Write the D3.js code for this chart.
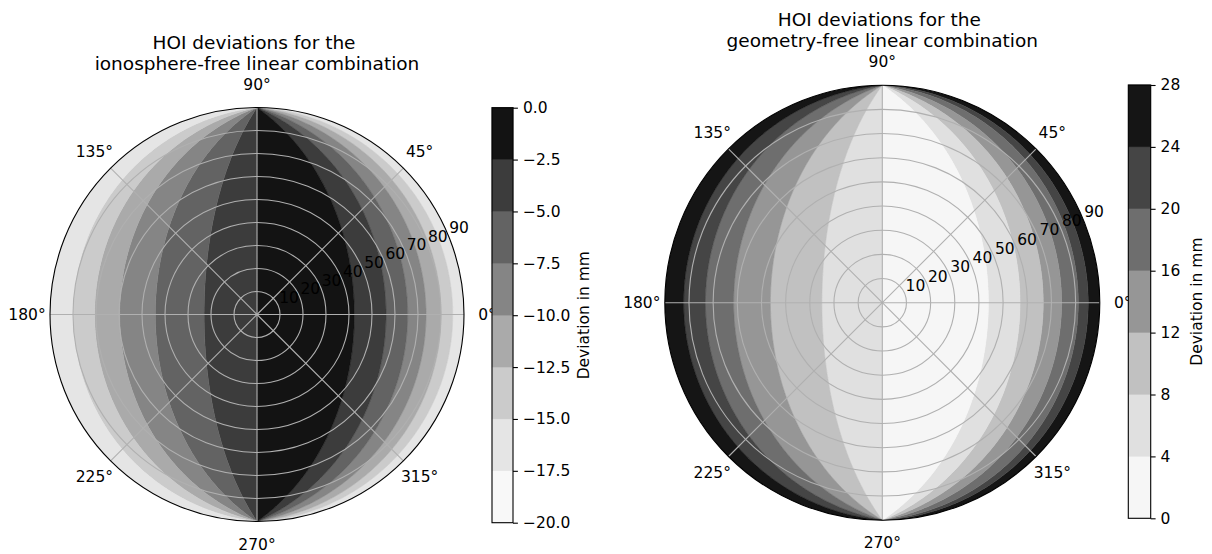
<!DOCTYPE html>
<html>
<head>
<meta charset="utf-8">
<script src="https://cdn.jsdelivr.net/npm/d3@7"></script>
<style>
  body { margin: 0; background: #fff; }
  svg { font-family: "DejaVu Sans", sans-serif; }
</style>
</head>
<body>
<div id="chart"></div>
<script>
// Contour levels of both panels (mm)
const ifLevels = [-20, -17.5, -15, -12.5, -10, -7.5, -5, -2.5, 0];
const gfLevels = [0, 4, 8, 12, 16, 20, 24, 28];

// Filled bands are lunes between meridians through the 90°/270° horizon points.
// Edge = meridian angle in degrees (0 = horizon at 0°, 90 = zenith line, 180 = horizon at 180°)
const ifBandEdges = [0, 4.9, 10, 16.5, 24.5, 33.9, 47.7, 90, 113, 134.2, 149.7, 160.6, 170, 180];
const ifBandLevel = [1, 2, 3, 4, 5, 6, 7, 6, 5, 4, 3, 2, 1];   // band k = between levels[k] and levels[k+1]

const gfBandEdges = [0, 4.8, 8.9, 15.8, 23.4, 33, 46.1, 90, 115, 136.3, 151.5, 163.2, 172.2, 180];
const gfBandLevel = [6, 5, 4, 3, 2, 1, 0, 1, 2, 3, 4, 5, 6];

// Polar axis ticks
const rTicks = [10, 20, 30, 40, 50, 60, 70, 80, 90];
const thetaTicks = [0, 45, 90, 135, 180, 225, 270, 315];

const W = 1212, H = 554;
const FS = 15.5;   // tick label font size

const svg = d3.select('#chart').append('svg')
    .attr('width', W)
    .attr('height', H);

// matplotlib "Greys" colormap
const greys = d3.scaleLinear()
    .domain(d3.range(9).map(i => i / 8))
    .range(['#ffffff', '#f0f0f0', '#d9d9d9', '#bdbdbd', '#969696', '#737373', '#525252', '#252525', '#000000'])
    .interpolate(d3.interpolateRgb);

const rad = Math.PI / 180;
const tSamples = d3.range(-90, 90.01, 1);

// point on a meridian: returns [zenith deg, azimuth rad (ccw from 0°)]
function meridianPoint(phi, t) {
    const p = phi * rad, tt = t * rad;
    const dx = Math.cos(p) * Math.cos(tt);
    const dy = Math.sin(tt);
    const dz = Math.max(-1, Math.min(1, Math.sin(p) * Math.cos(tt)));
    return [Math.acos(dz) / rad, Math.atan2(dy, dx)];
}

function drawPolar(cfg) {
    const { id, cx, cy, R, edges, bandLevel, levels, title } = cfg;
    const r = d3.scaleLinear().domain([0, 90]).range([0, R]);
    const nBands = levels.length - 1;

    const g = svg.append('g').attr('transform', `translate(${cx},${cy})`);

    // d3 radial angle: 0 at top, clockwise
    const radial = d3.lineRadial()
        .angle(d => Math.PI / 2 - d[1])
        .radius(d => r(d[0]));

    g.append('clipPath').attr('id', 'clip-' + id)
        .append('circle').attr('r', R);

    const bands = g.append('g').attr('clip-path', `url(#clip-${id})`);
    bandLevel.forEach((lv, i) => {
        const a = tSamples.map(t => meridianPoint(edges[i], t));
        const b = tSamples.slice().reverse().map(t => meridianPoint(edges[i + 1], t));
        bands.append('path')
            .attr('d', radial(a.concat(b)) + 'Z')
            .attr('fill', greys((lv + 0.5) / nBands))
            .attr('stroke', greys((lv + 0.5) / nBands))
            .attr('stroke-width', 0.5);
    });

    // grid
    g.selectAll('.ring')
        .data(rTicks.slice(0, -1))
        .enter().append('circle')
        .attr('r', d => r(d))
        .attr('fill', 'none')
        .attr('stroke', '#b0b0b0')
        .attr('stroke-width', 1.1);

    g.selectAll('.spoke')
        .data(thetaTicks)
        .enter().append('line')
        .attr('x2', d => r(90) * Math.cos(d * rad))
        .attr('y2', d => -r(90) * Math.sin(d * rad))
        .attr('stroke', '#b0b0b0')
        .attr('stroke-width', 1.1);

    g.append('circle')
        .attr('r', R)
        .attr('fill', 'none')
        .attr('stroke', '#000')
        .attr('stroke-width', 1.1);

    // radial labels at 22.5°
    g.selectAll('.rlab')
        .data(rTicks)
        .enter().append('text')
        .attr('x', d => r(d) * Math.cos(22.5 * rad) + 1)
        .attr('y', d => -r(d) * Math.sin(22.5 * rad) - 2.5)
        .style('font-size', FS + 'px')
        .text(d => d);

    // angular labels
    g.selectAll('.tlab')
        .data(thetaTicks)
        .enter().append('text')
        .attr('x', d => (R + 23) * Math.cos(d * rad))
        .attr('y', d => -(R + 23) * Math.sin(d * rad))
        .attr('text-anchor', 'middle')
        .attr('dominant-baseline', 'central')
        .style('font-size', FS + 'px')
        .text(d => d + '°');

    // two-line title
    title.forEach((line, i) => {
        g.append('text')
            .attr('x', i === 0 ? -3 : 0)
            .attr('y', cfg.titleY - cy + i * 20.5)
            .attr('text-anchor', 'middle')
            .style('font-size', '18.5px')
            .text(line);
    });
}

function drawColorbar(cfg) {
    const { x, y0, y1, w, levels, fmt, labelX } = cfg;
    const nBands = levels.length - 1;
    const y = d3.scaleLinear().domain([levels[0], levels[nBands]]).range([y1, y0]);
    const g = svg.append('g');

    g.selectAll('rect.band')
        .data(d3.range(nBands))
        .enter().append('rect')
        .attr('x', x)
        .attr('y', k => y(levels[k + 1]))
        .attr('width', w)
        .attr('height', k => y(levels[k]) - y(levels[k + 1]))
        .attr('fill', k => greys((k + 0.5) / nBands))
        .attr('stroke', k => greys((k + 0.5) / nBands))
        .attr('stroke-width', 0.4);

    g.append('rect')
        .attr('x', x).attr('y', y0)
        .attr('width', w).attr('height', y1 - y0)
        .attr('fill', 'none')
        .attr('stroke', '#000')
        .attr('stroke-width', 1.1);

    const axis = d3.axisRight(y)
        .tickValues(levels)
        .tickFormat(fmt)
        .tickSize(4.9)
        .tickPadding(5);

    const ax = g.append('g')
        .attr('transform', `translate(${x + w},0)`)
        .call(axis);
    ax.select('.domain').remove();
    ax.selectAll('line').attr('stroke', '#000').attr('stroke-width', 1.1);
    ax.selectAll('text')
        .style('font-size', FS + 'px')
        .style('font-family', '"DejaVu Sans", sans-serif')
        .attr('fill', '#000');

    g.append('text')
        .attr('transform', `translate(${labelX},${(y0 + y1) / 2}) rotate(-90)`)
        .attr('text-anchor', 'middle')
        .attr('dominant-baseline', 'central')
        .style('font-size', FS + 'px')
        .text('Deviation in mm');
}

drawPolar({
    id: 'if', cx: 257, cy: 314.5, R: 207,
    edges: ifBandEdges, bandLevel: ifBandLevel, levels: ifLevels,
    title: ['HOI deviations for the', 'ionosphere-free linear combination'],
    titleY: 49
});

drawPolar({
    id: 'gf', cx: 882.3, cy: 302.7, R: 217.5,
    edges: gfBandEdges, bandLevel: gfBandLevel, levels: gfLevels,
    title: ['HOI deviations for the', 'geometry-free linear combination'],
    titleY: 26
});

drawColorbar({
    x: 492, y0: 107.7, y1: 522.7, w: 21,
    levels: ifLevels, fmt: d3.format('.1f'), labelX: 584
});

drawColorbar({
    x: 1128.3, y0: 85, y1: 518.3, w: 22.4,
    levels: gfLevels, fmt: d3.format('d'), labelX: 1197
});
</script>
</body>
</html>
